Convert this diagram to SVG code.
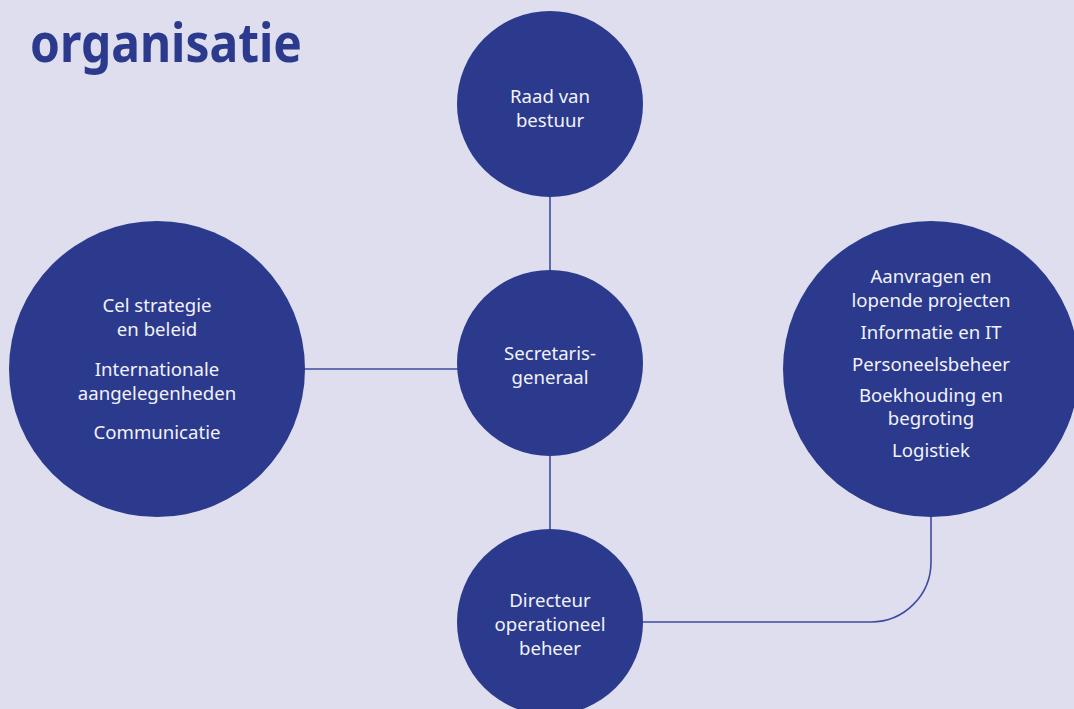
<svg xmlns="http://www.w3.org/2000/svg" width="1074" height="709" viewBox="0 0 1074 709">
<style>
.bg{fill:#dfdeef}
.node{fill:#2b3a8c}
.lbl{fill:#f2f2fa;font-family:"Noto Sans","Open Sans",sans-serif;font-size:18.6px;text-anchor:middle}
.conn{stroke:#3d4c9e;stroke-width:1.6;fill:none}
.title{fill:#2b3a8c;font-family:"Noto Sans","Open Sans",sans-serif;font-weight:bold;font-size:54px}
</style>
<rect class="bg" x="0" y="0" width="1074" height="709"/>
<text class="title" x="30" y="62" textLength="272" lengthAdjust="spacingAndGlyphs">organisatie</text>
<g id="connectors">
<line class="conn" x1="550" y1="196" x2="550" y2="271"/>
<line class="conn" x1="550" y1="455" x2="550" y2="530"/>
<line class="conn" x1="304" y1="369" x2="458" y2="369"/>
<path class="conn" d="M641 622 H871 A60 60 0 0 0 931 562 V515"/>
</g>
<g id="raad">
<circle class="node" cx="550" cy="104" r="93"/>
<text class="lbl" x="550" y="103">Raad van</text>
<text class="lbl" x="550" y="127">bestuur</text>
</g>
<g id="secretaris">
<circle class="node" cx="550" cy="363" r="93"/>
<text class="lbl" x="550" y="360">Secretaris-</text>
<text class="lbl" x="550" y="384">generaal</text>
</g>
<g id="directeur">
<circle class="node" cx="550" cy="622" r="93"/>
<text class="lbl" x="550" y="607">Directeur</text>
<text class="lbl" x="550" y="631">operationeel</text>
<text class="lbl" x="550" y="655">beheer</text>
</g>
<g id="cel">
<circle class="node" cx="157" cy="369" r="148"/>
<text class="lbl" x="157" y="312">Cel strategie</text>
<text class="lbl" x="157" y="336">en beleid</text>
<text class="lbl" x="157" y="376">Internationale</text>
<text class="lbl" x="157" y="400">aangelegenheden</text>
<text class="lbl" x="157" y="439">Communicatie</text>
</g>
<g id="diensten">
<circle class="node" cx="931" cy="369" r="148"/>
<text class="lbl" x="931" y="283">Aanvragen en</text>
<text class="lbl" x="931" y="307">lopende projecten</text>
<text class="lbl" x="931" y="339">Informatie en IT</text>
<text class="lbl" x="931" y="371">Personeelsbeheer</text>
<text class="lbl" x="931" y="402">Boekhouding en</text>
<text class="lbl" x="931" y="425">begroting</text>
<text class="lbl" x="931" y="457">Logistiek</text>
</g>
</svg>
